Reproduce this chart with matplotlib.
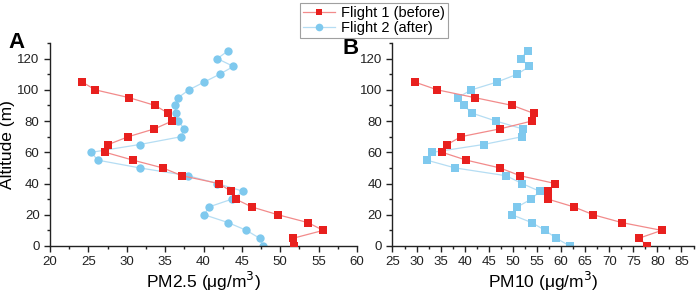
import matplotlib
matplotlib.use("Agg")
import matplotlib.pyplot as plt
from matplotlib.ticker import MultipleLocator
from matplotlib.lines import Line2D

plt.rcParams['font.family'] = ['Liberation Sans', 'DejaVu Sans']

alt1 = [0, 5, 10, 15, 20, 25, 30, 35, 40, 45, 50, 55, 60, 65, 70, 75, 80, 85, 90, 95, 100, 105]
alt2 = [0, 5, 10, 15, 20, 25, 30, 35, 40, 45, 50, 55, 60, 65, 70, 75, 80, 85, 90, 95, 100, 105, 110, 115, 120, 125]

pm25_f1 = [51.8, 51.7, 55.6, 53.6, 49.7, 46.3, 44.2, 43.6, 42.0, 37.2, 34.7, 30.8, 27.2, 27.6,
           30.2, 33.6, 35.9, 35.4, 33.7, 30.3, 25.9, 24.2]
pm25_f2 = [47.8, 47.3, 45.6, 43.2, 40.1, 40.7, 43.7, 45.2, 41.8, 38.0, 31.7, 26.2, 25.4, 31.7,
           37.1, 37.5, 36.7, 36.4, 36.3, 36.7, 38.1, 40.1, 42.1, 43.9, 41.8, 43.2]

pm10_f1 = [77.9, 76.2, 80.9, 72.6, 66.7, 62.7, 57.3, 57.2, 58.8, 51.5, 47.3, 40.3, 35.3, 36.4,
           39.2, 47.3, 53.9, 54.3, 49.9, 42.1, 34.3, 29.6]
pm10_f2 = [61.8, 59.0, 56.7, 53.9, 49.8, 50.9, 53.8, 55.6, 51.9, 48.6, 38.0, 32.1, 33.3, 43.9,
           51.9, 52.0, 46.5, 41.6, 39.8, 38.5, 41.4, 46.7, 50.9, 53.4, 51.6, 53.1]

labels = ["Flight 1 (before)", "Flight 2 (after)"]

red_m = "#E8201E"
red_l = "#F28B8B"
blue_m = "#7FC9EE"
blue_l = "#B5DDF3"

fig = plt.figure(figsize=(6.99, 2.97), dpi=100)
W, H = 699, 297
axA = fig.add_axes([50 / W, 1 - 246 / H, 307 / W, 203 / H])
axB = fig.add_axes([392.5 / W, 1 - 246 / H, 301 / W, 203 / H])

def style(ax, xlim, xmaj):
    ax.set_xlim(*xlim)
    ax.set_ylim(0, 130)
    ax.xaxis.set_major_locator(MultipleLocator(xmaj))
    ax.xaxis.set_minor_locator(MultipleLocator(xmaj / 2))
    ax.yaxis.set_major_locator(MultipleLocator(20))
    ax.yaxis.set_minor_locator(MultipleLocator(10))
    for s in ("top", "right"):
        ax.spines[s].set_visible(False)
    for s in ("left", "bottom"):
        ax.spines[s].set_linewidth(1.0)
        ax.spines[s].set_color("#222222")
    ax.tick_params(which="major", direction="out", length=4, width=1.0, labelsize=9.5, colors="#222222")
    ax.tick_params(which="minor", direction="out", length=2.5, width=1.0, colors="#222222")

mk = dict(markersize=5.2, linewidth=0.9, markeredgewidth=0)
axA.plot(pm25_f1, alt1, color=red_l, marker="s", markerfacecolor=red_m, zorder=3, **mk)
axA.plot(pm25_f2, alt2, color=blue_l, marker="o", markerfacecolor=blue_m, zorder=2,
         markersize=6.0, linewidth=0.9, markeredgewidth=0)
axB.plot(pm10_f1, alt1, color=red_l, marker="s", markerfacecolor=red_m, zorder=3, **mk)
axB.plot(pm10_f2, alt2, color=blue_l, marker="s", markerfacecolor=blue_m, zorder=2, **mk)

style(axA, (20, 60), 5)
style(axB, (25, 87.5), 5)

axA.set_xlabel("PM2.5 (\u03bcg/m$^3$)", fontsize=12.5, labelpad=1)
axB.set_xlabel("PM10 (\u03bcg/m$^3$)", fontsize=12.5, labelpad=1)
axA.set_ylabel("Altitude (m)", fontsize=12.5, labelpad=2)

fig.text(8 / W, 1 - 48 / H, "A", fontsize=16, fontweight="bold", va="baseline")
fig.text(343 / W, 1 - 54 / H, "B", fontsize=16, fontweight="bold", va="baseline")

handles = [
    Line2D([], [], color=red_l, marker="s", markerfacecolor=red_m, markeredgewidth=0, markersize=5, linewidth=0.9),
    Line2D([], [], color=blue_l, marker="o", markerfacecolor=blue_m, markeredgewidth=0, markersize=5.5, linewidth=0.9),
]
leg = fig.legend(handles, labels, loc="upper center", bbox_to_anchor=(374 / W, 1 - 3 / H),
                 fontsize=10.5, frameon=True, fancybox=False, edgecolor="#888888",
                 borderpad=0.2, labelspacing=0.1, handlelength=2.2, handletextpad=0.4,
                 borderaxespad=0)
leg.get_frame().set_linewidth(0.8)

fig.savefig("out.png", dpi=100)
